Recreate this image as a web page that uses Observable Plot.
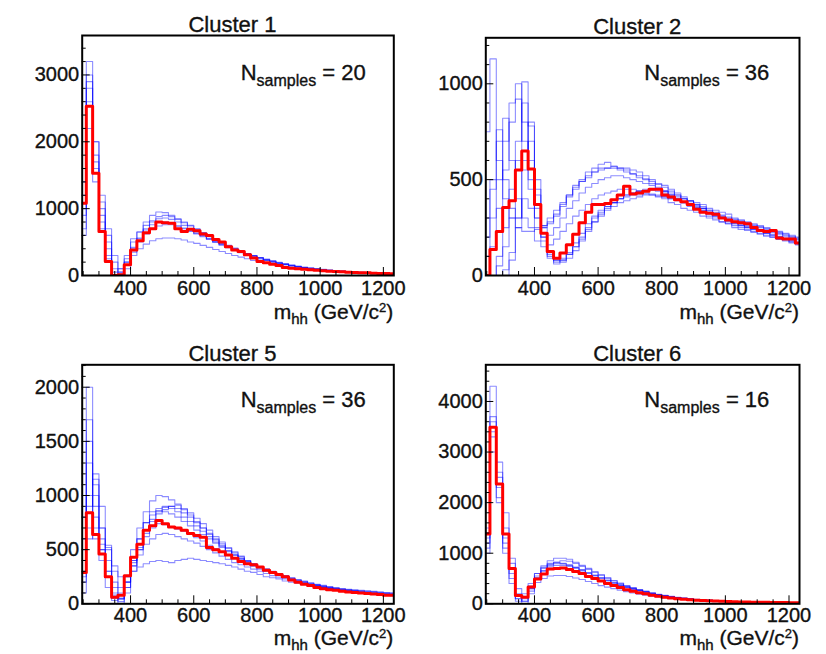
<!DOCTYPE html>
<html>
<head>
<meta charset="utf-8">
<script src="https://cdn.jsdelivr.net/npm/d3@7"></script>
<script src="https://cdn.jsdelivr.net/npm/@observablehq/plot@0.6"></script>
<style>
  html, body { margin: 0; padding: 0; background: #fff; }
  #grid { position: relative; width: 826px; height: 654px; overflow: hidden; }
  .panel { position: absolute; }
  .panel svg text { stroke: #111; stroke-width: 0.35px; }
</style>
</head>
<body>
<div id="grid"></div>
<script>
// Lower edges of the 20 GeV m_hh bins (GeV)
const binStarts = [
  240, 260, 280, 300, 320, 340, 360, 380, 400, 420,
  440, 460, 480, 500, 520, 540, 560, 580, 600, 620,
  640, 660, 680, 700, 720, 740, 760, 780, 800, 820,
  840, 860, 880, 900, 920, 940, 960, 980, 1000, 1020,
  1040, 1060, 1080, 1100, 1120, 1140, 1160, 1180, 1200, 1220
];
const lastBinEnd = 1240;
const massDomain = [247, 1233];
const massTicks = [400, 600, 800, 1000, 1200];

const clusterTitles = ["Cluster 1", "Cluster 2", "Cluster 5", "Cluster 6"];
const sampleCounts = [20, 36, 36, 16];
const yTop = [3590, 1240, 2207, 4725];
const yTicks = [
  [0, 1000, 2000, 3000],
  [0, 500, 1000],
  [0, 500, 1000, 1500, 2000],
  [0, 1000, 2000, 3000, 4000]
];

// Cluster benchmark distributions (red)
const cluster1Benchmark = [
  1080, 2530, 1530, 660, 210, 0, 10, 160, 380, 520,
  640, 700, 800, 790, 780, 700, 660, 690, 670, 620,
  600, 540, 500, 430, 380, 360, 310, 260, 210, 190,
  170, 150, 120, 110, 100, 95, 85, 80, 70, 65,
  60, 55, 50, 45, 40, 40, 35, 30, 30, 25
];
const cluster2Benchmark = [
  0, 135, 230, 355, 390, 550, 650, 555, 370, 220,
  125, 90, 118, 160, 215, 275, 330, 370, 370, 375,
  395, 420, 465, 425, 430, 440, 450, 450, 420, 410,
  395, 385, 370, 345, 330, 325, 320, 300, 290, 280,
  275, 270, 250, 235, 230, 235, 195, 190, 190, 170
];
const cluster5Benchmark = [
  290, 840, 640, 460, 250, 60, 80, 260, 430, 550,
  680, 720, 770, 740, 710, 700, 680, 650, 630, 615,
  520, 500, 480, 450, 420, 390, 370, 360, 340, 310,
  290, 270, 250, 220, 200, 180, 170, 150, 140, 130,
  125, 115, 110, 105, 100, 95, 90, 85, 80, 80
];
const cluster6Benchmark = [
  1380, 3490, 2370, 1380, 700, 165, 130, 330, 490, 590,
  690, 700, 710, 680, 640, 600, 540, 500, 450, 400,
  360, 320, 280, 250, 220, 200, 170, 150, 130, 115,
  100, 90, 80, 70, 65, 60, 55, 50, 45, 40,
  38, 35, 33, 30, 30, 28, 25, 25, 22, 20
];

// Member samples of each cluster (blue)
const cluster1Samples = [
  [600, 3200, 1800, 900, 500, 100, 50, 250, 500, 650,
   800, 900, 950, 940, 900, 850, 800, 750, 700, 640,
   590, 540, 490, 450, 410, 370, 330, 300, 270, 240,
   215, 190, 170, 150, 135, 120, 108, 96, 86, 77,
   70, 63, 57, 52, 47, 43, 39, 36, 33, 30],
  [1400, 3000, 2000, 1100, 400, 0, 0, 150, 400, 550,
   700, 800, 850, 860, 840, 800, 750, 700, 650, 600,
   550, 500, 460, 420, 380, 345, 310, 280, 250, 225,
   200, 180, 160, 140, 125, 112, 100, 90, 80, 72,
   65, 58, 52, 47, 43, 39, 35, 32, 29, 26],
  [900, 2800, 1600, 1000, 600, 200, 100, 200, 300, 400,
   470, 520, 550, 560, 560, 550, 530, 500, 480, 450,
   420, 390, 360, 330, 300, 275, 250, 225, 205, 185,
   165, 150, 135, 120, 108, 97, 87, 78, 70, 63,
   57, 51, 46, 42, 38, 34, 31, 28, 25, 23],
  [1200, 2900, 1700, 800, 300, 0, 100, 300, 550, 650,
   750, 820, 880, 900, 880, 840, 790, 740, 690, 640,
   580, 530, 480, 440, 400, 360, 325, 295, 265, 238,
   212, 190, 168, 150, 133, 118, 105, 94, 84, 75,
   68, 61, 55, 50, 45, 41, 37, 34, 31, 28],
  [700, 2200, 2000, 1200, 700, 300, 50, 100, 350, 500,
   620, 700, 740, 760, 760, 740, 710, 670, 630, 590,
   550, 510, 470, 430, 395, 360, 330, 300, 270, 245,
   220, 198, 178, 160, 143, 128, 115, 103, 92, 82,
   74, 66, 59, 53, 48, 43, 39, 35, 32, 29],
  [1000, 2600, 1400, 700, 250, 50, 20, 200, 420, 560,
   680, 760, 800, 800, 780, 740, 700, 660, 620, 580,
   540, 495, 455, 415, 378, 342, 308, 278, 250, 225,
   202, 182, 163, 146, 131, 118, 106, 95, 85, 76,
   68, 61, 55, 50, 45, 41, 37, 34, 31, 28]
];
const cluster2Samples = [
  [750, 1130, 600, 400, 300, 250, 230, 230, 240, 260,
   300, 340, 380, 420, 460, 490, 510, 540, 550, 560,
   570, 560, 560, 550, 540, 520, 500, 480, 470, 450,
   430, 410, 390, 370, 350, 330, 310, 300, 290, 270,
   260, 250, 240, 230, 220, 210, 200, 190, 180, 170],
  [0, 150, 350, 550, 800, 920, 700, 450, 300, 260,
   280, 320, 370, 420, 470, 500, 540, 560, 580, 590,
   570, 560, 550, 530, 510, 500, 480, 460, 440, 420,
   400, 380, 360, 350, 330, 310, 300, 280, 270, 260,
   250, 240, 230, 220, 210, 200, 190, 185, 175, 165],
  [0, 0, 50, 150, 300, 600, 1010, 780, 420, 200,
   100, 70, 80, 110, 150, 200, 250, 300, 330, 360,
   380, 400, 420, 430, 440, 450, 450, 450, 440, 430,
   420, 400, 390, 370, 360, 340, 330, 310, 300, 290,
   280, 270, 260, 250, 240, 230, 220, 210, 200, 190],
  [300, 500, 700, 820, 600, 400, 300, 250, 180, 150,
   160, 190, 230, 270, 310, 340, 370, 400, 420, 430,
   440, 450, 450, 450, 440, 430, 420, 410, 400, 380,
   370, 350, 340, 330, 310, 300, 290, 280, 270, 250,
   240, 235, 225, 215, 205, 200, 190, 180, 170, 160],
  [0, 0, 0, 0, 80, 250, 600, 800, 500, 250,
   120, 80, 70, 90, 130, 180, 230, 280, 320, 350,
   380, 400, 420, 430, 440, 440, 445, 440, 430, 420,
   410, 400, 390, 380, 370, 350, 340, 330, 320, 300,
   290, 280, 270, 260, 250, 240, 230, 220, 210, 200],
  [200, 450, 760, 500, 350, 300, 400, 350, 250, 200,
   210, 250, 300, 350, 390, 430, 460, 480, 500, 510,
   520, 520, 510, 500, 490, 480, 470, 450, 440, 420,
   400, 380, 370, 350, 340, 320, 310, 300, 280, 270,
   260, 250, 240, 230, 220, 210, 200, 190, 180, 170],
  [0, 0, 100, 250, 450, 700, 900, 600, 350, 180,
   90, 60, 80, 120, 170, 220, 270, 310, 340, 360,
   380, 400, 410, 420, 420, 425, 425, 420, 410, 400,
   390, 380, 370, 355, 340, 330, 320, 305, 295, 280,
   270, 260, 250, 240, 230, 225, 215, 205, 195, 185],
  [0, 0, 0, 30, 120, 300, 550, 700, 450, 220,
   110, 80, 90, 110, 150, 190, 240, 280, 310, 340,
   360, 380, 390, 400, 410, 420, 420, 415, 410, 400,
   395, 385, 375, 360, 350, 340, 325, 315, 305, 295,
   285, 275, 265, 255, 245, 235, 225, 215, 205, 195],
  [100, 300, 500, 700, 900, 1000, 800, 500, 300, 250,
   270, 310, 360, 410, 450, 490, 520, 540, 560, 560,
   560, 550, 540, 530, 520, 505, 490, 475, 460, 440,
   420, 400, 385, 365, 350, 330, 315, 300, 285, 275,
   265, 255, 245, 235, 225, 215, 205, 195, 185, 175]
];
const cluster5Samples = [
  [100, 2000, 900, 400, 150, 30, 50, 250, 500, 700,
   850, 950, 1000, 990, 960, 920, 870, 820, 760, 700,
   640, 590, 540, 490, 450, 410, 380, 350, 320, 300,
   280, 260, 240, 220, 200, 190, 180, 170, 160, 150,
   140, 135, 130, 125, 120, 115, 110, 105, 100, 100],
  [500, 1700, 1100, 600, 250, 50, 0, 150, 400, 600,
   750, 850, 880, 900, 880, 850, 800, 760, 720, 670,
   620, 570, 530, 490, 450, 420, 390, 360, 340, 310,
   290, 270, 250, 230, 215, 200, 185, 170, 160, 150,
   140, 130, 125, 120, 110, 105, 100, 95, 90, 85],
  [600, 1300, 1000, 700, 500, 350, 250, 250, 300, 340,
   370, 390, 400, 390, 380, 400, 410, 420, 410, 400,
   390, 380, 370, 355, 340, 320, 300, 290, 270, 250,
   240, 230, 210, 200, 190, 180, 170, 160, 150, 140,
   135, 130, 120, 115, 110, 105, 100, 95, 90, 90],
  [200, 600, 1200, 900, 400, 100, 20, 100, 300, 500,
   650, 760, 830, 870, 900, 910, 880, 840, 790, 740,
   680, 620, 570, 520, 480, 440, 400, 370, 340, 310,
   290, 270, 250, 230, 210, 195, 180, 170, 155, 145,
   135, 125, 120, 110, 105, 100, 95, 90, 85, 80],
  [800, 1000, 700, 500, 300, 150, 100, 200, 350, 450,
   550, 600, 640, 650, 640, 620, 600, 580, 560, 530,
   500, 470, 440, 410, 380, 360, 340, 320, 300, 280,
   260, 245, 230, 215, 200, 185, 170, 160, 150, 140,
   130, 120, 115, 110, 100, 95, 90, 85, 80, 75],
  [300, 700, 600, 550, 520, 300, 150, 200, 400, 600,
   750, 820, 860, 850, 830, 800, 760, 720, 680, 640,
   600, 560, 520, 480, 450, 420, 390, 360, 340, 320,
   300, 280, 260, 240, 225, 210, 195, 180, 170, 160,
   150, 140, 135, 130, 125, 120, 115, 110, 105, 100],
  [400, 1500, 800, 500, 300, 80, 40, 200, 380, 500,
   620, 700, 740, 730, 710, 690, 670, 640, 610, 580,
   540, 510, 480, 450, 420, 395, 370, 350, 330, 305,
   285, 265, 245, 225, 205, 190, 175, 160, 150, 140,
   130, 122, 115, 110, 105, 100, 95, 90, 85, 82],
  [250, 900, 1150, 700, 540, 200, 50, 150, 350, 520,
   680, 780, 850, 890, 900, 880, 840, 800, 750, 700,
   650, 600, 555, 510, 470, 435, 400, 370, 345, 320,
   298, 278, 258, 238, 220, 205, 190, 178, 166, 155,
   145, 137, 130, 123, 117, 111, 106, 101, 96, 92]
];
const cluster6Samples = [
  [1200, 4300, 2100, 1000, 400, 50, 100, 400, 600, 750,
   850, 900, 900, 880, 820, 760, 700, 640, 580, 520,
   460, 410, 360, 320, 280, 250, 220, 190, 170, 150,
   130, 115, 100, 90, 80, 70, 62, 55, 50, 45,
   40, 36, 33, 30, 28, 26, 24, 22, 20, 18],
  [1000, 3700, 2800, 1200, 600, 100, 50, 250, 500, 650,
   760, 820, 850, 840, 800, 740, 680, 620, 560, 500,
   450, 400, 350, 310, 275, 240, 210, 185, 160, 140,
   125, 110, 95, 85, 75, 68, 60, 55, 50, 45,
   40, 36, 33, 30, 28, 26, 24, 22, 20, 18],
  [1500, 3000, 2600, 1800, 900, 300, 200, 300, 420, 500,
   550, 560, 560, 540, 510, 480, 440, 400, 360, 330,
   300, 270, 240, 215, 190, 170, 150, 135, 120, 105,
   95, 85, 75, 68, 60, 55, 50, 45, 40, 36,
   33, 30, 28, 25, 24, 22, 20, 18, 17, 16],
  [1300, 3300, 2300, 1500, 800, 150, 0, 200, 550, 700,
   800, 820, 800, 770, 720, 670, 610, 560, 510, 460,
   410, 370, 330, 290, 260, 230, 200, 175, 155, 135,
   120, 105, 92, 82, 73, 65, 58, 52, 47, 42,
   38, 35, 32, 29, 27, 25, 23, 21, 19, 17],
  [1100, 3600, 2000, 1300, 500, 100, 150, 350, 600, 720,
   780, 800, 790, 760, 720, 670, 620, 570, 520, 470,
   420, 375, 335, 300, 265, 235, 205, 180, 160, 140,
   122, 108, 95, 84, 75, 67, 60, 54, 48, 43,
   39, 35, 32, 29, 27, 25, 23, 21, 19, 17],
  [1400, 3400, 2500, 1100, 700, 200, 50, 300, 520, 650,
   730, 760, 760, 740, 700, 650, 600, 550, 500, 450,
   405, 365, 325, 290, 258, 228, 200, 178, 158, 140,
   124, 110, 97, 86, 77, 69, 62, 56, 50, 45,
   41, 37, 34, 31, 28, 26, 24, 22, 20, 18]
];

const benchmarks = [cluster1Benchmark, cluster2Benchmark, cluster5Benchmark, cluster6Benchmark];
const samples = [cluster1Samples, cluster2Samples, cluster5Samples, cluster6Samples];

// Pad geometry: each pad is its own SVG in a 2x2 grid
const pads = [
  {left: 0,   top: 0,   width: 413, height: 327, mt: 35,   mr: 19.7, mb: 52,   ml: 81.7, nY: 45,   tickPad: 5, titleY: 44},
  {left: 413, top: 0,   width: 413, height: 327, mt: 37.3, mr: 27,   mb: 52,   ml: 72.3, nY: 42.7, tickPad: 5, titleY: 44},
  {left: 0,   top: 327, width: 413, height: 327, mt: 37.3, mr: 19.7, mb: 50.7, ml: 81.7, nY: 43,   tickPad: 4, titleY: 41.5},
  {left: 413, top: 327, width: 413, height: 327, mt: 37.3, mr: 27,   mb: 50.7, ml: 72.3, nY: 43,   tickPad: 4, titleY: 41.5}
];
const fontFamily = '"Liberation Sans", Arial, Helvetica, sans-serif';

// Histogram outline: one point per bin start plus the closing edge
function steps(values, id) {
  const pts = binStarts.map((x, j) => ({x, y: values[j], id}));
  pts.push({x: lastBinEnd, y: values[values.length - 1], id});
  return pts;
}

function minorTicks(major) {
  const step = (major[1] - major[0]) / 5;
  return d3.range(0, 5000, step).filter(v => !major.includes(v));
}

const grid = document.getElementById("grid");

pads.forEach((p, i) => {
  const fw = p.width - p.ml - p.mr;
  const fh = p.height - p.mt - p.mb;
  const blue = samples[i].flatMap((s, k) => steps(s, k));
  const red = steps(benchmarks[i], "benchmark");
  const yMinor = minorTicks(yTicks[i]).filter(v => v < yTop[i]);
  const xMinor = d3.range(250, 1233, 50).filter(v => !massTicks.includes(v));

  const svg = Plot.plot({
    width: p.width,
    height: p.height,
    marginTop: p.mt,
    marginRight: p.mr,
    marginBottom: p.mb,
    marginLeft: p.ml,
    x: {domain: massDomain},
    y: {domain: [0, yTop[i]]},
    style: {fontFamily, fontSize: "20px", color: "#111", background: "white", overflow: "visible"},
    marks: [
      Plot.line(blue, {x: "x", y: "y", z: "id", curve: "step-after", stroke: "#0000ff", strokeOpacity: 0.45, strokeWidth: 1.1, clip: true}),
      Plot.line(red, {x: "x", y: "y", curve: "step-after", stroke: "#ff0000", strokeWidth: 3, clip: true}),
      Plot.tickY(yTicks[i], {y: d => d, insetRight: fw - 8, stroke: "black", strokeWidth: 1}),
      Plot.tickY(yMinor, {y: d => d, insetRight: fw - 4, stroke: "black", strokeWidth: 1}),
      Plot.tickX(massTicks, {x: d => d, insetTop: fh - 8, stroke: "black", strokeWidth: 1}),
      Plot.tickX(xMinor, {x: d => d, insetTop: fh - 4, stroke: "black", strokeWidth: 1}),
      Plot.axisY({ticks: yTicks[i], tickSize: 0, tickPadding: 3, tickFormat: d => String(d), label: null}),
      Plot.axisX({ticks: massTicks, tickSize: 0, tickPadding: p.tickPad, tickFormat: d => String(d), label: null}),
      Plot.frame({stroke: "black", strokeWidth: 2})
    ]
  });

  const s = d3.select(svg);
  const frameLeft = p.ml, frameRight = p.width - p.mr, frameBottom = p.height - p.mb;

  // Pad title
  s.append("text")
    .attr("x", (frameLeft + frameRight) / 2 - 5)
    .attr("y", p.mt - 3)
    .attr("text-anchor", "middle")
    .attr("font-size", 22)
    .attr("fill", "#111")
    .text(clusterTitles[i]);

  // Sample count
  const n = s.append("text")
    .attr("x", frameLeft + 159)
    .attr("y", p.mt + p.nY)
    .attr("text-anchor", "start")
    .attr("font-size", 22)
    .attr("fill", "#111");
  n.append("tspan").text("N");
  n.append("tspan").attr("font-size", 16).attr("dy", 6).text("samples");
  n.append("tspan").attr("dy", -6).text(` = ${sampleCounts[i]}`);

  // x-axis title
  const a = s.append("text")
    .attr("x", frameRight)
    .attr("y", frameBottom + p.titleY)
    .attr("text-anchor", "end")
    .attr("font-size", 21)
    .attr("fill", "#111");
  a.append("tspan").text("m");
  a.append("tspan").attr("font-size", 15).attr("dy", 5).text("hh");
  a.append("tspan").attr("dy", -5).text(" (GeV/c");
  a.append("tspan").attr("font-size", 13).attr("dy", -7).text("2");
  a.append("tspan").attr("dy", 7).text(")");

  const holder = document.createElement("div");
  holder.className = "panel";
  holder.style.left = p.left + "px";
  holder.style.top = p.top + "px";
  holder.appendChild(svg);
  grid.appendChild(holder);
});
</script>
</body>
</html>
